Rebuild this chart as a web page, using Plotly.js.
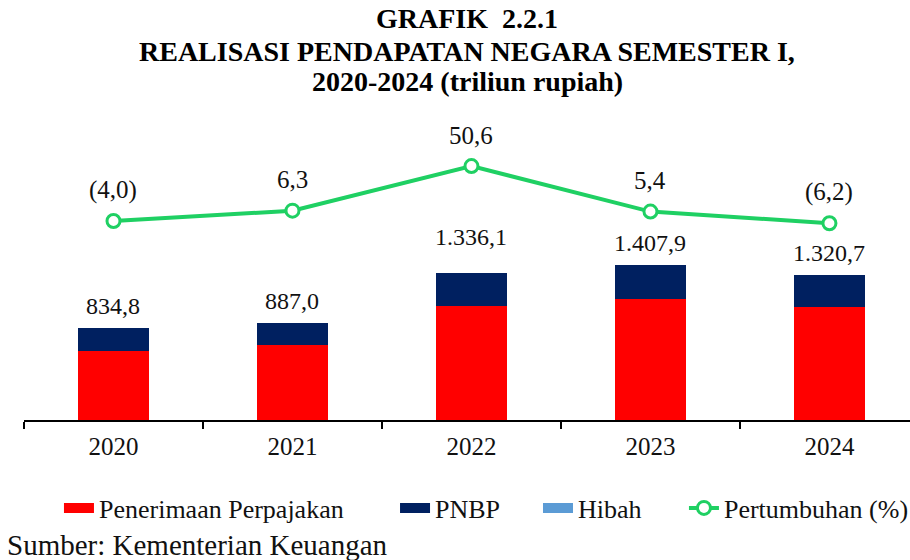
<!DOCTYPE html>
<html>
<head>
<meta charset="utf-8">
<script src="https://cdn.plot.ly/plotly-3.0.1.min.js"></script>
<style>html,body{margin:0;padding:0;background:#fff}#chart{width:910px;height:560px}</style>
</head>
<body>
<div id="chart"></div>
<script>
const years = ['2020', '2021', '2022', '2023', '2024'];
const perpajakan = [624.9, 680.0, 1035.9, 1105.6, 1028.0];
const pnbp = [208.6, 202.5, 299.0, 302.1, 288.4];
const hibah = [1.3, 4.5, 1.2, 0.2, 4.3];
const pertumbuhan = [-4.0, 6.3, 50.6, 5.4, -6.2];
const titleLines = ['GRAFIK  2.2.1', 'REALISASI PENDAPATAN NEGARA SEMESTER I,', '2020-2024 (triliun rupiah)'];
const sourceText = 'Sumber: Kementerian Keuangan';

const totals = years.map((_, i) => Math.round((perpajakan[i] + pnbp[i] + hibah[i]) * 10) / 10);

function fmtId(v) {
  const neg = v < 0;
  const a = Math.abs(v).toFixed(1).split('.');
  const intPart = a[0].replace(/\B(?=(\d{3})+(?!\d))/g, '.');
  const s = intPart + ',' + a[1];
  return neg ? '(' + s + ')' : s;
}

const serif = 'Liberation Serif';
const cRed = '#ff0000', cNavy = '#002060', cBlue = '#5b9bd5', cGreen = '#1fd063';

const traces = [
  {type: 'bar', name: 'Penerimaan Perpajakan', x: years, y: perpajakan, marker: {color: cRed}, width: 0.4,
   legendgroup: 'g1', showlegend: false},
  {type: 'bar', name: 'PNBP', x: years, y: pnbp, marker: {color: cNavy}, width: 0.4,
   legendgroup: 'g2', showlegend: false},
  {type: 'bar', name: 'Hibah', x: years, y: hibah, marker: {color: cBlue}, width: 0.4,
   legendgroup: 'g3', showlegend: false},
  {type: 'scatter', mode: 'lines+markers', name: 'Pertumbuhan (%)', x: years, y: pertumbuhan, yaxis: 'y2',
   line: {color: cGreen, width: 4},
   marker: {size: 13, color: '#ffffff', line: {color: cGreen, width: 3}}, legend: 'legend4'},
  // legend-only entries for the bar series (wide rectangular swatches)
  {type: 'scatter', mode: 'lines', name: 'Penerimaan Perpajakan', x: [null], y: [null], line: {color: cRed, width: 14},
   legendgroup: 'g1', legend: 'legend', hoverinfo: 'skip'},
  {type: 'scatter', mode: 'lines', name: 'PNBP', x: [null], y: [null], line: {color: cNavy, width: 14},
   legendgroup: 'g2', legend: 'legend2', hoverinfo: 'skip'},
  {type: 'scatter', mode: 'lines', name: 'Hibah', x: [null], y: [null], line: {color: cBlue, width: 14},
   legendgroup: 'g3', legend: 'legend3', hoverinfo: 'skip'}
];

const annotations = [];
years.forEach((yr, i) => {
  annotations.push({x: i, y: totals[i], xref: 'x', yref: 'y', text: fmtId(totals[i]), showarrow: false,
    yanchor: 'middle', yshift: i === 2 ? 36 : 22, font: {family: serif, size: 24, color: '#111'}});
  annotations.push({x: i, y: pertumbuhan[i], xref: 'x', yref: 'y2', text: fmtId(pertumbuhan[i]), showarrow: false,
    yanchor: 'middle', yshift: 31, font: {family: serif, size: 25, color: '#111'}});
});
const titleY = [1.256, 1.153, 1.059];
titleLines.forEach((t, i) => {
  annotations.push({x: 0.5, y: titleY[i], xref: 'paper', yref: 'paper', xanchor: 'center', yanchor: 'middle',
    text: '<b>' + t + '</b>', showarrow: false, font: {family: serif, size: 28, color: '#000'}});
});
annotations.push({x: -0.0214, y: -0.39, xref: 'paper', yref: 'paper', xanchor: 'left', yanchor: 'middle',
  text: sourceText, showarrow: false, font: {family: serif, size: 29, color: '#111'}});

const legendBase = {orientation: 'h', xref: 'container', yref: 'container', xanchor: 'left', yanchor: 'middle',
  y: 0.0929, font: {family: serif, size: 26, color: '#111'}, bgcolor: 'rgba(0,0,0,0)'};

const layout = {
  width: 910, height: 560,
  margin: {l: 24, r: 0, t: 100, b: 140},
  paper_bgcolor: '#fff', plot_bgcolor: '#fff',
  barmode: 'stack',
  separators: ',.',
  xaxis: {type: 'category', range: [-0.5, 4.45], showline: true, linecolor: '#000', linewidth: 1.5,
    ticks: 'outside', tickson: 'boundaries', ticklen: 7, tickcolor: '#000', tickwidth: 1.5,
    showgrid: false, zeroline: false, fixedrange: true, ticklabelstandoff: 3,
    tickfont: {family: serif, size: 25, color: '#111'}},
  yaxis: {range: [0, 2912], visible: false, showgrid: false, zeroline: false},
  yaxis2: {range: [-201.6, 116.2], overlaying: 'y', side: 'right', visible: false, showgrid: false, zeroline: false},
  showlegend: true,
  legend: Object.assign({}, legendBase, {x: 0.0648}),
  legend2: Object.assign({}, legendBase, {x: 0.4341}),
  legend3: Object.assign({}, legendBase, {x: 0.5912}),
  legend4: Object.assign({}, legendBase, {x: 0.7516}),
  annotations: annotations
};

Plotly.newPlot('chart', traces, layout, {displayModeBar: false, staticPlot: true});
</script>
</body>
</html>
